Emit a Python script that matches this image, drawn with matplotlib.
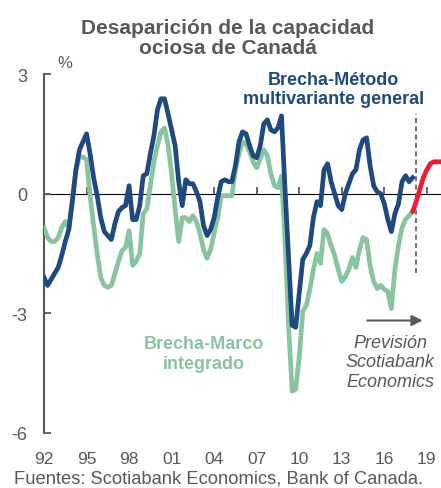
import numpy as np
import matplotlib.pyplot as plt

# Quarterly output-gap estimates, %, 1992Q1 - 2018Q1
quarters = np.arange(1992, 2018.01, 0.25)
brecha_multivariante = [
    -2.1, -2.3, -2.15, -2.0,
    -1.85, -1.55, -1.2, -0.9,
    -0.2, 0.6, 1.1, 1.3,
    1.5, 1.0, 0.4, -0.05,
    -0.6, -0.95, -1.05, -1.15,
    -0.75, -0.45, -0.35, -0.3,
    0.2, -0.65, -0.65, -0.3,
    0.45, 0.5, 1.0, 1.45,
    2.1, 2.38, 2.38, 2.0,
    1.6, 1.2, 0.3, -0.3,
    0.35, 0.25, 0.25, 0.05,
    -0.2, -0.8, -1.05, -0.9,
    -0.6, -0.1, 0.3, 0.35,
    0.3, 0.3, 0.7, 1.3,
    1.55, 1.5, 1.2, 0.95,
    0.9, 1.2, 1.75, 1.85,
    1.6, 1.55, 1.65, 1.95,
    0.1, -1.6, -3.3, -3.35,
    -2.5, -1.65, -1.5, -1.3,
    -0.6, -0.2, -0.3, 0.6,
    0.75, 0.3, 0.0, -0.3,
    -0.4, 0.0, 0.25, 0.5,
    0.6, 1.1, 1.35, 1.4,
    0.7, 0.2, 0.05, 0.0,
    -0.25, -0.65, -0.95, -0.5,
    -0.25, 0.3, 0.45, 0.3,
    0.4,
]
brecha_marco = [
    -0.85, -1.1, -1.2, -1.2,
    -1.1, -0.85, -0.7, -0.85,
    -0.1, 0.6, 0.92, 0.92,
    0.85, -0.05, -0.8, -1.5,
    -2.1, -2.3, -2.35, -2.3,
    -2.0, -1.7, -1.43, -1.35,
    -0.93, -1.8, -1.7, -1.5,
    -0.5, -0.38, 0.2, 0.8,
    1.2, 1.55, 1.65, 1.2,
    0.5, -0.4, -1.2, -0.6,
    -0.6, -0.7, -0.55, -0.7,
    -1.0, -1.4, -1.62, -1.4,
    -1.0, -0.6, -0.05, -0.05,
    -0.05, -0.05, 0.6, 1.0,
    1.3, 1.25, 1.05, 0.8,
    0.65, 0.88, 1.1, 0.95,
    0.5, 0.2, 0.15, 0.45,
    -1.2, -3.3, -4.95, -4.9,
    -4.1, -2.95, -2.8, -2.4,
    -1.9, -1.5, -1.75, -0.9,
    -1.0, -1.3, -1.55, -1.9,
    -2.2, -2.08, -1.9, -1.6,
    -1.85, -1.4, -1.1, -1.15,
    -1.8, -2.2, -2.38, -2.3,
    -2.4, -2.45, -2.88, -1.9,
    -1.3, -0.85, -0.65, -0.55,
    -0.45,
]
# Scotiabank forecast
prevision_q = np.arange(2018, 2020.01, 0.25)
prevision = [-0.45, -0.2, 0.1, 0.4, 0.6, 0.75, 0.8, 0.8, 0.8]

tick_years = [1992, 1995, 1998, 2001, 2004, 2007, 2010, 2013, 2016, 2019]
tick_labels = ['92', '95', '98', '01', '04', '07', '10', '13', '16', '19']

blue = '#1f4a80'
green = '#88c4a0'
red = '#ee1c2e'
grey = '#595959'

plt.rcParams['font.family'] = ['Liberation Sans', 'DejaVu Sans']

fig = plt.figure(figsize=(4.41, 4.89), dpi=100)
ax = fig.add_axes([0.0998, 0.1125, 0.9002, 0.7341])

ax.plot(quarters, brecha_marco, color=green, lw=3.4, solid_joinstyle='round', zorder=3)
ax.plot(quarters, brecha_multivariante, color=blue, lw=3.4, solid_joinstyle='round', zorder=4)
ax.plot(prevision_q, prevision, color=red, lw=3.4, solid_capstyle='round', zorder=5)
ax.plot([2018.25, 2018.25], [-2, 2], color=grey, lw=1.2, ls=(0, (3, 2)), zorder=2)

ax.set_xlim(1992, 2020)
ax.set_ylim(-6, 3)
ax.set_yticks([-6, -3, 0, 3])
ax.set_yticklabels(['-6', '-3', '0', '3'])
ax.set_xticks(tick_years)
ax.set_xticklabels(tick_labels)
ax.tick_params(axis='x', length=0, pad=13, labelsize=12.5, labelcolor=grey)
ax.tick_params(axis='y', direction='in', length=5, width=1.3, color=grey,
               labelsize=13, labelcolor=grey, pad=12)
for s in ['top', 'right', 'bottom']:
    ax.spines[s].set_visible(False)
ax.spines['left'].set_color(grey)
ax.spines['left'].set_linewidth(1.5)

# zero line with tick marks
zero = ax.secondary_xaxis(6 / 9)
zero.set_xticks(tick_years[1:])
zero.set_xticklabels([])
zero.tick_params(length=5, width=1.3, color=grey)
zero.spines['bottom'].set_color(grey)
zero.spines['bottom'].set_linewidth(1.5)

fig.text(0.517, 0.922, 'Desaparición de la capacidad\nociosa de Canadá', ha='center', va='center',
         fontsize=15, fontweight='bold', color=grey, linespacing=1.05)
fig.text(0.147, 0.871, '%', ha='center', va='center', fontsize=12, color=grey)
ax.text(2012.4, 2.62, 'Brecha-Método\nmultivariante general', ha='center', va='center',
        fontsize=13, fontweight='bold', color=blue, linespacing=1.2)
ax.text(2003.3, -4.0, 'Brecha-Marco\nintegrado', ha='center', va='center',
        fontsize=13, fontweight='bold', color=green, linespacing=1.2)
ax.annotate('', xy=(2018.9, -3.18), xytext=(2014.6, -3.18),
            arrowprops=dict(arrowstyle='-|>', color=grey, lw=1.5, mutation_scale=16))
ax.text(2016.4, -4.22, 'Previsión\nScotiabank\nEconomics', ha='center', va='center',
        fontsize=13, fontstyle='italic', color=grey, linespacing=1.2)
fig.text(0.032, 0.011, 'Fuentes: Scotiabank Economics, Bank of Canada.', ha='left', va='baseline',
         fontsize=13.2, color=grey)

fig.savefig('out.png', dpi=100)
